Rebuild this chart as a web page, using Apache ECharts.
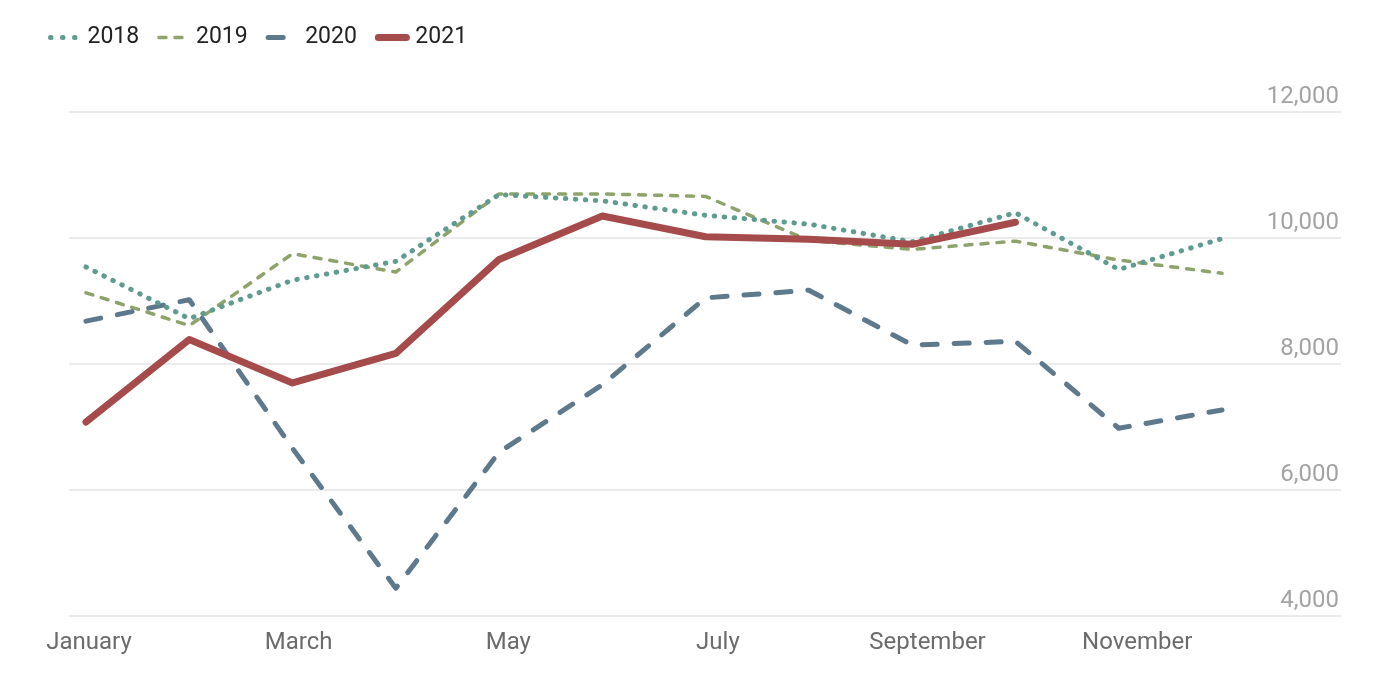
<!DOCTYPE html>
<html>
<head>
<meta charset="utf-8">
<script src="https://cdn.jsdelivr.net/npm/echarts@6/dist/echarts.min.js"></script>
<style>
  html, body { margin: 0; padding: 0; background: #fff; }
  #chart { width: 1385px; height: 681px; }
</style>
</head>
<body>
<div id="chart"></div>
<script>
var months = ['January', 'February', 'March', 'April', 'May', 'June',
  'July', 'August', 'September', 'October', 'November', 'December'];
var yTicks = [4000, 6000, 8000, 10000, 12000];

var y2018 = [9540, 8720, 9330, 9630, 10690, 10590, 10360, 10220, 9940, 10400, 9500, 9990];
var y2019 = [9130, 8610, 9750, 9460, 10700, 10700, 10660, 9960, 9820, 9950, 9650, 9440];
var y2020 = [8680, 9020, 6660, 4440, 6600, 7670, 9050, 9170, 8300, 8360, 6980, 7270];
var y2021 = [7080, 8390, 7700, 8170, 9660, 10350, 10020, 9980, 9900, 10250, null, null];

var chart = echarts.init(document.getElementById('chart'));
var yMin = yTicks[0], yMax = yTicks[yTicks.length - 1];
var font = 'Roboto, "Noto Sans", sans-serif';

var styles = {
  '2018': { color: '#5f9b90', width: 5, type: [0.5, 9.5], legendType: [0.5, 11.5] },
  '2019': { color: '#8ea36b', width: 3.5, type: [7, 9], legendType: [7, 9] },
  '2020': { color: '#5e798c', width: 5, type: [15, 17], legendType: [15, 17] },
  '2021': { color: '#a54b4b', width: 7, type: 'solid', legendType: 'solid' }
};

function lineSeries(name, data, z) {
  var s = styles[name];
  return {
    name: name, type: 'line', data: data, symbol: 'none', z: z,
    itemStyle: { color: s.color },
    lineStyle: { color: s.color, width: s.width, type: s.type, cap: 'round', join: 'round' }
  };
}

function legendItem(name) {
  var s = styles[name];
  return {
    name: name,
    itemStyle: { opacity: 0 },
    lineStyle: { color: s.color, width: s.width, type: s.legendType, cap: 'round' }
  };
}

var option = {
  animation: false,
  legend: {
    left: 43,
    top: 21,
    itemWidth: 28,
    itemHeight: 14,
    itemGap: 18,
    textStyle: { fontSize: 23, color: '#222', fontFamily: font, padding: [0, 0, 0, 4] },
    data: ['2018', '2019', '2020', '2021'].map(legendItem)
  },
  grid: [
    // data
    { left: 86, right: 163, top: 112, bottom: 65 },
    // grid lines + y labels
    { left: 69, right: 44, top: 112, bottom: 65 },
    // month labels
    { left: 89, right: 143, top: 112, bottom: 65 }
  ],
  xAxis: [
    { gridIndex: 0, type: 'category', boundaryGap: false, data: months, show: false },
    { gridIndex: 1, type: 'value', min: 0, max: 1, show: false },
    {
      gridIndex: 2, type: 'category', boundaryGap: false, data: months,
      axisLine: { show: false }, axisTick: { show: false },
      axisLabel: { interval: 1, margin: 15, fontSize: 24, color: '#6b6b6b', fontFamily: font }
    }
  ],
  yAxis: [
    { gridIndex: 0, type: 'value', min: yMin, max: yMax, show: false },
    {
      gridIndex: 1, type: 'value', min: yMin, max: yMax, interval: 2000, position: 'right',
      axisLine: { show: false }, axisTick: { show: false },
      splitLine: { show: true, lineStyle: { color: '#e4e4e4', width: 1.5 } },
      axisLabel: {
        inside: true, margin: 2, verticalAlign: 'bottom', padding: [0, 0, 3, 0],
        fontSize: 24, color: '#a3a3a3', fontFamily: font,
        formatter: function (v) { return v.toLocaleString('en-US'); }
      }
    },
    { gridIndex: 2, type: 'value', min: yMin, max: yMax, show: false }
  ],
  series: [
    lineSeries('2018', y2018, 3),
    lineSeries('2019', y2019, 2),
    lineSeries('2020', y2020, 2),
    lineSeries('2021', y2021, 4)
  ]
};

chart.setOption(option);
</script>
</body>
</html>
